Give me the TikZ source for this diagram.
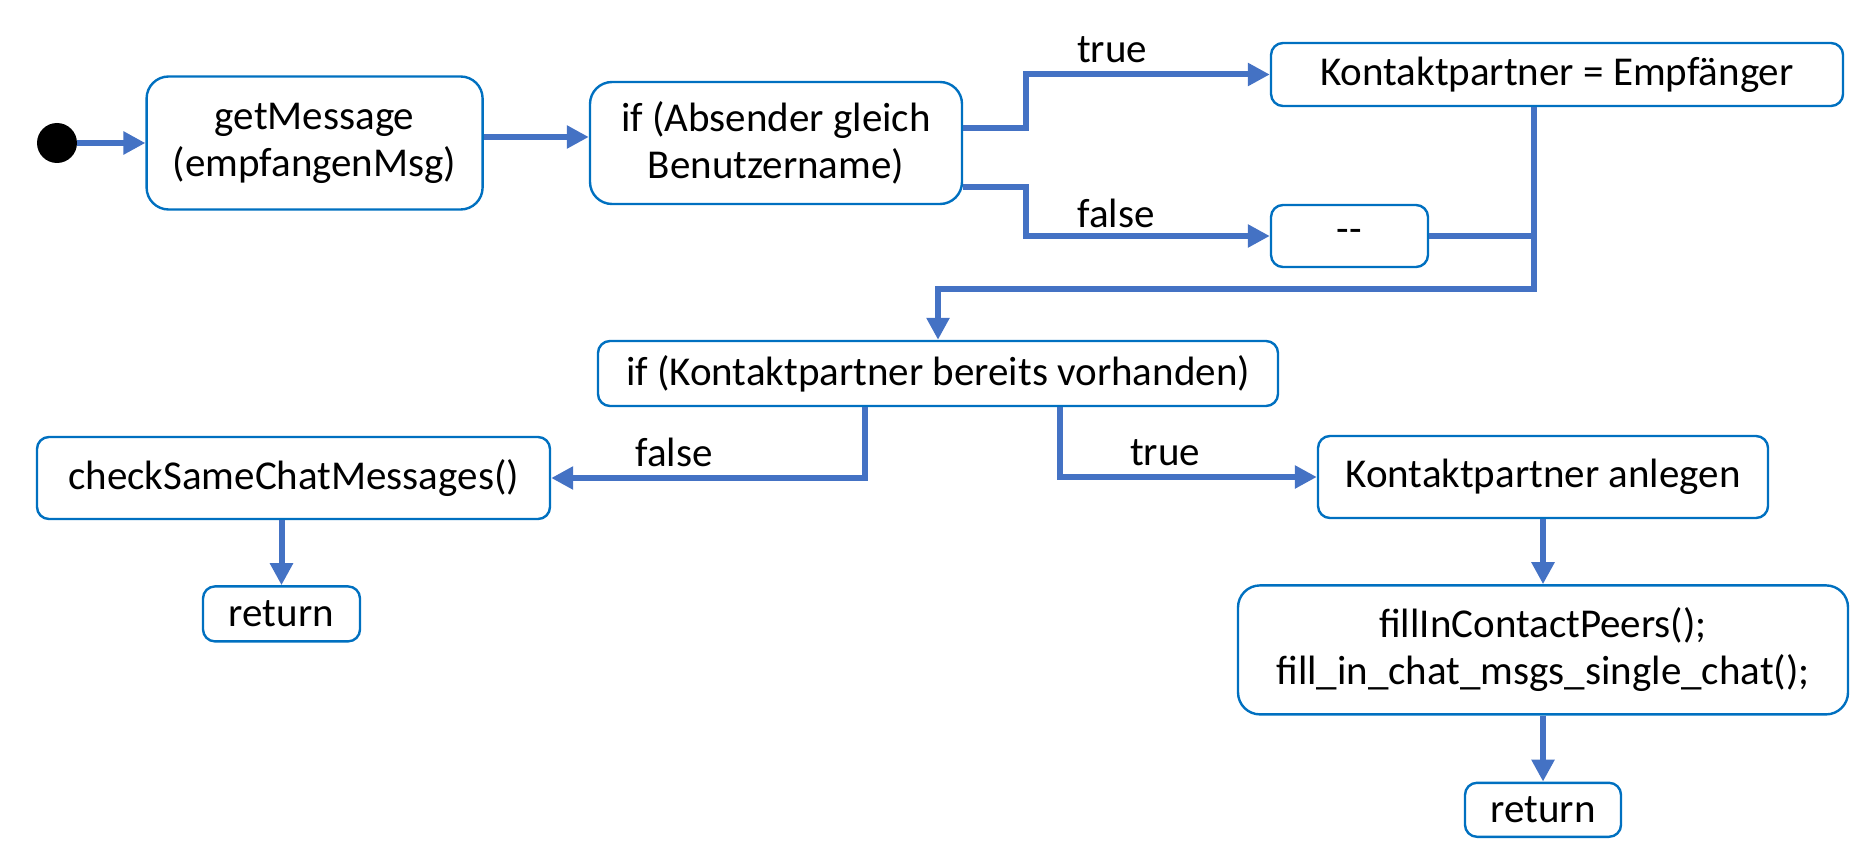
\documentclass[tikz,border=0pt]{standalone}
\usepackage{fontspec}
\setmainfont{Carlito}
\usepackage{tikz}
\usetikzlibrary{positioning,arrows.meta}

\definecolor{boxblue}{RGB}{0,112,192}
\definecolor{flowblue}{RGB}{68,114,196}

\tikzset{
  stepbox/.style={draw=boxblue, line width=1.2pt, rounded corners=6pt, align=center, inner sep=0pt, font=\fontsize{20.5}{23.5}\selectfont},
  bigbox/.style={stepbox, rounded corners=11pt},
  flow/.style={draw=flowblue, line width=3pt, -{Triangle[length=11pt,width=11pt]}},
  link/.style={draw=flowblue, line width=3pt},
  lbl/.style={font=\fontsize{20.5}{23.5}\selectfont, inner sep=0pt},
}

\begin{document}
\begin{tikzpicture}[x=0.5pt,y=-0.5pt]
  \useasboundingbox (0,0) rectangle (1871,845);

  \node[circle, fill=black, minimum size=20pt, inner sep=0pt] (start) at (57,143) {};
  \node[bigbox, right=34pt of start, minimum width=168pt, minimum height=66.5pt] (getmsg) {getMessage\\(empfangenMsg)};
  \node[bigbox, right=52.5pt of getmsg, minimum width=186pt, minimum height=61pt] (ifabs) {if (Absender gleich\\Benutzername)};
  \node[stepbox, minimum width=286pt, minimum height=31.5pt] (partner) at (1557,74.5) {Kontaktpartner = Empf\"anger};
  \node[stepbox, minimum width=78.5pt, minimum height=31pt] (dash) at (1349.5,236) {{-}{-}};
  \node[stepbox, minimum width=340pt, minimum height=32.5pt] (ifpartner) at (938,373.5) {if (Kontaktpartner bereits vorhanden)};
  \node[stepbox, minimum width=256.5pt, minimum height=41pt] (check) at (293.5,478) {checkSameChatMessages()};
  \node[stepbox, below=32.5pt of check, xshift=-6pt, minimum width=78.5pt, minimum height=27.5pt] (ret1) {return};
  \node[stepbox, minimum width=225pt, minimum height=41pt] (anlegen) at (1543,477) {Kontaktpartner anlegen};
  \node[bigbox, below=32.5pt of anlegen, minimum width=305pt, minimum height=64.5pt] (fill) {fillInContactPeers();\\fill\_in\_chat\_msgs\_single\_chat();};
  \node[stepbox, below=33pt of fill, minimum width=78pt, minimum height=27pt] (ret2) {return};

  \coordinate (merge) at (1534,289);

  % branch labels
  \node[lbl] (ltrue1) at (1112,50) {true};
  \node[lbl] (lfalse1) at (1116,213) {false};
  \node[lbl] (lfalse2) at (674,452) {false};
  \node[lbl] (ltrue2) at (1165,453) {true};

  %start>getmsg>ifabs
  \draw[flow] (start) -- (getmsg);
  \draw[flow] ([yshift=3pt]getmsg.east) -- ([yshift=3pt]ifabs.west);

  %ifabs>partner/dash
  \draw[flow] ([yshift=7.5pt]ifabs.east) -- ++(31.5pt,0) |- (partner.west);
  \draw[flow] ([yshift=-22pt]ifabs.east) -- ++(31.5pt,0) |- (dash.west);

  %join>ifpartner
  \draw[link] (dash.east) -- (dash.east -| merge);
  \draw[flow] (partner.south -| merge) -- (merge) -| (ifpartner.north);

  %ifpartner>check/anlegen
  \draw[flow] ([xshift=-36.5pt]ifpartner.south) |- (check.east);
  \draw[flow] ([xshift=61pt]ifpartner.south) |- (anlegen.west);

  %down to return
  \draw[flow] (check.south -| ret1.north) -- (ret1.north);
  \draw[flow] (anlegen) -- (fill);
  \draw[flow] (fill) -- (ret2);
\end{tikzpicture}
\end{document}
